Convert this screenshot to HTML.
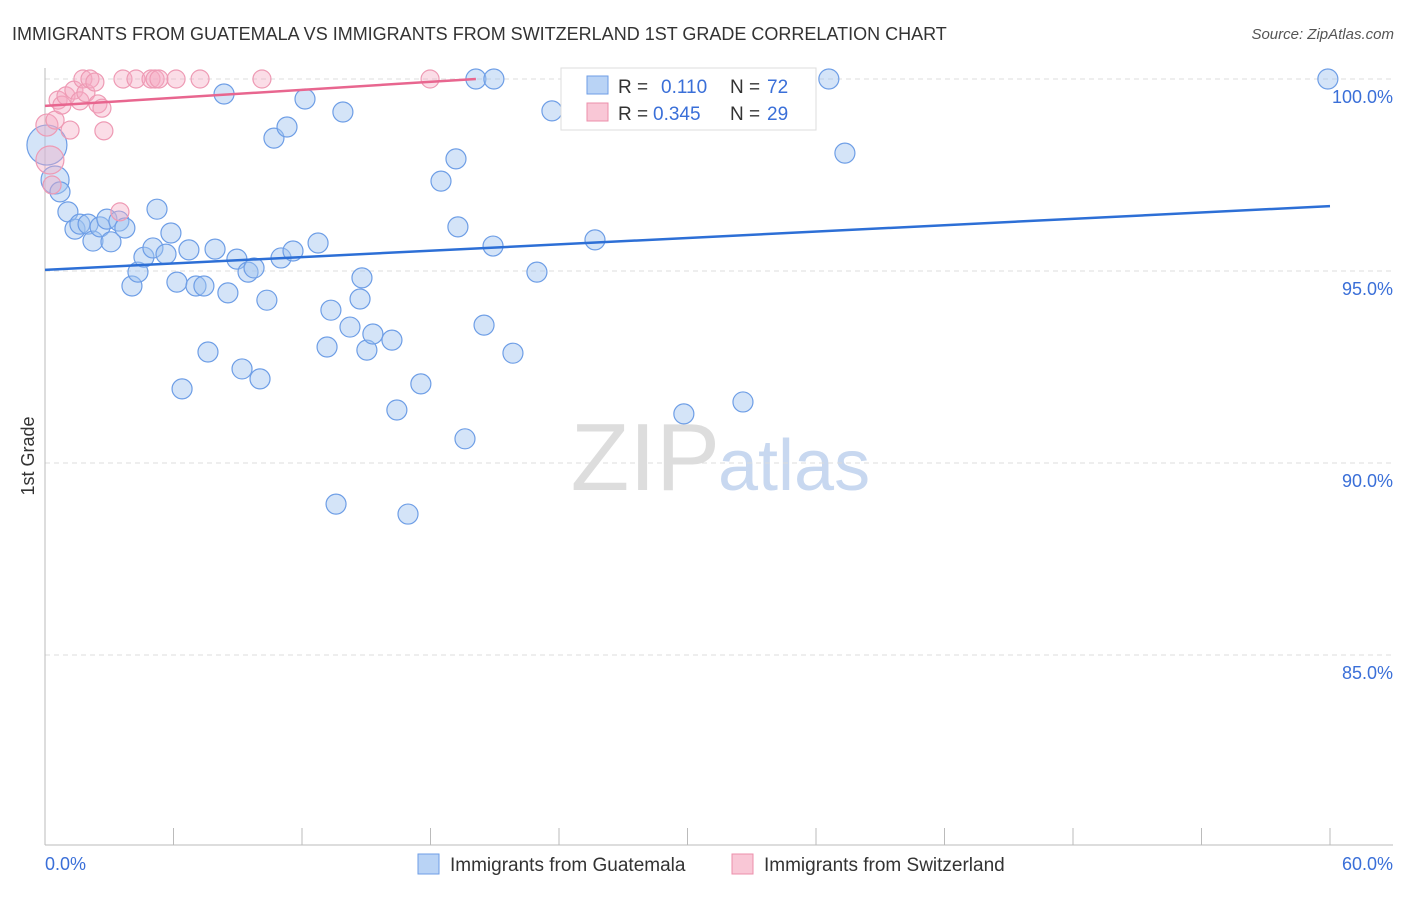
<!DOCTYPE html>
<html><head><meta charset="utf-8"><style>
body{margin:0;background:#fff;font-family:"Liberation Sans",sans-serif;}
svg text{font-family:"Liberation Sans",sans-serif;}
</style></head><body>
<svg id="chart" width="1406" height="892">
<text x="12" y="40" font-size="18" fill="#333">IMMIGRANTS FROM GUATEMALA VS IMMIGRANTS FROM SWITZERLAND 1ST GRADE CORRELATION CHART</text>
<text x="1394" y="39" font-size="15" fill="#555" font-style="italic" text-anchor="end">Source: ZipAtlas.com</text>
<text x="720" y="490" font-size="96" fill="#ddd" text-anchor="end" font-family="Liberation Serif">ZIP</text>
<text x="718" y="490" font-size="72" fill="#c8d8f0">atlas</text>
<text x="34" y="456" font-size="18" fill="#333" transform="rotate(-90 34 456)" text-anchor="middle">1st Grade</text>
<g id="grid"></g>
<g id="axes"></g>
<g id="marks"></g>
<g id="legend-top">
<rect x="561" y="68" width="255" height="62" fill="#fff" stroke="#ddd"/>
<rect x="587" y="76" width="21" height="18" fill="#b9d3f5" stroke="#6e9ee6"/>
<rect x="587" y="103" width="21" height="18" fill="#f9c7d6" stroke="#ec8fab"/>
<text x="618" y="93" font-size="19" fill="#333">R =</text>
<text x="661" y="93" font-size="19" fill="#3a6fd8">0.110</text>
<text x="730" y="93" font-size="19" fill="#333">N =</text>
<text x="767" y="93" font-size="19" fill="#3a6fd8">72</text>
<text x="618" y="120" font-size="19" fill="#333">R =</text>
<text x="653" y="120" font-size="19" fill="#3a6fd8">0.345</text>
<text x="730" y="120" font-size="19" fill="#333">N =</text>
<text x="767" y="120" font-size="19" fill="#3a6fd8">29</text>
</g>
<g>
<rect x="418" y="854" width="21" height="20" fill="#b9d3f5" stroke="#6e9ee6"/>
<text x="450" y="871" font-size="19" fill="#333">Immigrants from Guatemala</text>
<rect x="732" y="854" width="21" height="20" fill="#f9c7d6" stroke="#ec8fab"/>
<text x="764" y="871" font-size="19" fill="#333">Immigrants from Switzerland</text>
</g>
</svg>
<script>
const blueX=[0.09,0.47,0.70,1.07,1.40,1.63,2.01,2.24,2.57,2.89,3.08,3.45,3.73,4.06,4.34,4.62,5.04,5.23,5.65,5.88,6.16,6.40,6.72,7.05,7.42,7.61,7.94,8.36,8.54,8.96,9.20,9.48,9.76,10.04,10.36,10.69,11.02,11.30,11.58,12.14,12.75,13.17,13.35,13.59,13.91,14.24,14.71,14.80,15.03,15.31,16.20,16.43,16.95,17.55,18.49,19.19,19.28,19.61,20.12,20.50,20.92,20.96,21.85,22.97,23.67,25.68,29.83,32.59,33.71,36.60,37.35,59.90];
const blueY=[98.28,97.37,97.06,96.54,96.09,96.22,96.22,95.78,96.15,96.35,95.76,96.30,96.12,94.61,94.97,95.36,95.60,96.61,95.44,95.99,94.71,91.93,95.55,94.61,94.61,92.89,95.57,99.61,94.43,95.31,92.45,94.97,95.08,92.19,94.24,98.46,95.34,98.75,95.52,99.48,95.73,93.02,93.98,88.93,99.14,93.54,94.27,94.82,92.94,93.36,93.20,91.38,88.67,92.06,97.34,97.92,96.15,90.63,100,93.59,95.65,100,92.86,94.97,99.17,95.81,91.28,91.59,100,100,98.07,100];
const pinkX=[0.09,0.23,0.33,0.47,0.61,0.79,0.98,1.17,1.35,1.63,1.77,1.91,2.10,2.33,2.47,2.66,2.75,3.50,3.64,4.25,4.95,5.14,5.32,6.12,7.24,10.13,17.98,24.75,31.84];
const pinkY=[98.80,97.89,97.24,98.93,99.45,99.32,99.56,98.67,99.71,99.43,100,99.64,100,99.92,99.35,99.24,98.65,96.54,100,100,100,100,100,100,100,100,100,100,100];
const blueTrend=[95.03,96.69];  // y at x=0 and x=60
const pinkTrend=[99.30,100.0];  // y at x=0 and x=20.12
const pinkTrendEnd=20.12;
const yTicks=[100,95,90,85];
const yTickLabels=["100.0%","95.0%","90.0%","85.0%"];
const xTickLabels=["0.0%","60.0%"];
const NS="http://www.w3.org/2000/svg";
const sx=v=>45+v*(1285/60);
const sy=v=>79+(100-v)*38.4;
function mk(tag,attrs,parent){const e=document.createElementNS(NS,tag);for(const k in attrs)e.setAttribute(k,attrs[k]);document.getElementById(parent).appendChild(e);return e;}
yTicks.forEach((t,i)=>{
  const l=mk('line',{x1:45,x2:1393,y1:sy(t),y2:sy(t),stroke:'#ddd','stroke-dasharray':'5,4'},'grid');
  
  
  const tx=mk('text',{x:1393,y:sy(t)+24,'font-size':18,fill:'#3a6fd8','text-anchor':'end'},'grid');
  tx.textContent=yTickLabels[i];
  
  
});
const ax=mk('line',{x1:45,x2:45,y1:68,y2:845,stroke:'#bbb'},'axes');


const bx=mk('line',{x1:45,x2:1393,y1:845,y2:845,stroke:'#bbb'},'axes');


for(let i=0;i<=10;i++){
  const t=mk('line',{x1:sx(i*6),x2:sx(i*6),y1:828,y2:845,stroke:'#bbb'},'axes');
  
  
}
const xl0=mk('text',{x:45,y:870,'font-size':18,fill:'#3a6fd8'},'axes');xl0.textContent=xTickLabels[0];


const xl1=mk('text',{x:1393,y:870,'font-size':18,fill:'#3a6fd8','text-anchor':'end'},'axes');xl1.textContent=xTickLabels[1];


blueX.forEach((x,i)=>{
  const r=i===0?20:(i===1?14:10);
  const c=mk('circle',{cx:sx(x),cy:sy(blueY[i]),r:r,fill:'rgba(160,196,240,0.45)',stroke:'#6e9ee6','stroke-width':1.2},'marks');
  
  
});
pinkX.forEach((x,i)=>{
  const r=i===1?14:(i===0?11:9);
  const c=mk('circle',{cx:sx(x),cy:sy(pinkY[i]),r:r,fill:'rgba(246,170,194,0.4)',stroke:'#ee9ab4','stroke-width':1.2},'marks');
  
  
});
const bl=mk('line',{x1:sx(0),y1:sy(blueTrend[0]),x2:sx(60),y2:sy(blueTrend[1]),stroke:'#2d6fd6','stroke-width':2.5},'marks');


const pl=mk('line',{x1:sx(0),y1:sy(pinkTrend[0]),x2:sx(pinkTrendEnd),y2:sy(pinkTrend[1]),stroke:'#e8668f','stroke-width':2.5},'marks');


</script>
</body></html>
